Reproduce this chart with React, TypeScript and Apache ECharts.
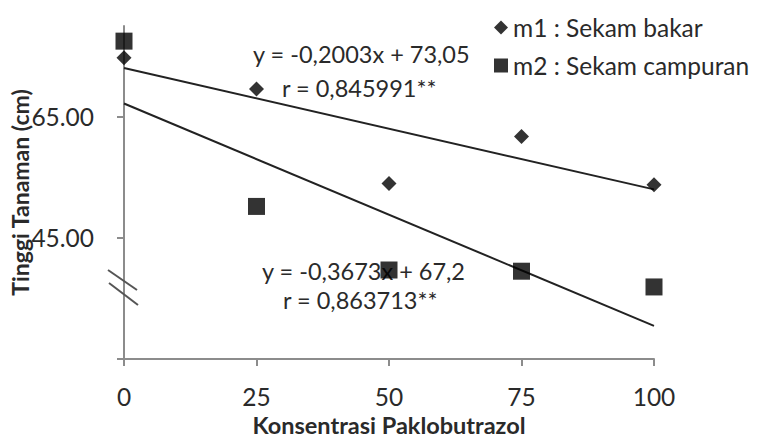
import React, { useEffect, useRef } from "react";
import * as echarts from "echarts";

const xTicks = [0, 25, 50, 75, 100];
const m1Values = [74.75, 69.6, 54.0, 61.75, 53.8];
const m2Values = [77.5, 50.2, 39.7, 39.5, 36.9];
const trend1 = [[0, 73.05], [100, 53.02]];
const trend2 = [[0, 67.2], [100, 30.47]];
const yTickValues = [25, 45, 65];
const yLabelValues = [45, 65];
const m1Name = "m1 : Sekam bakar";
const m2Name = "m2 : Sekam campuran";
const eq1 = "y = -0,2003x + 73,05";
const r1 = "r = 0,845991**";
const eq2 = "y = -0,3673x + 67,2";
const r2 = "r = 0,863713**";

const FONT = "Lato, 'Noto Sans', sans-serif";
const TXT = "#2a2a2a";

export default function App() {
  const ref = useRef<HTMLDivElement>(null);
  useEffect(() => {
    if (!ref.current) return;
    const chart = echarts.init(ref.current, undefined, { renderer: "svg" });
    const pts = (vals: number[]) => xTicks.map((x, i) => [x, vals[i]]);
    const eqStyle = (text: string, x: number, y: number) => ({
      type: "text",
      z: 1,
      style: { text, x, y, verticalAlign: "middle", font: `23.5px ${FONT}`, fill: TXT },
    });
    chart.setOption({
      animation: false,
      backgroundColor: "#ffffff",
      textStyle: { fontFamily: FONT },
      grid: {
        left: 124,
        right: 104,
        top: 26,
        bottom: 78,
        containLabel: false,
        outerBoundsMode: "none",
      },
      legend: {
        orient: "vertical",
        left: 489,
        top: 10,
        itemGap: 13,
        itemWidth: 14,
        itemHeight: 14,
        data: [
          { name: m1Name, icon: "diamond", itemStyle: { color: "#000" } },
          { name: m2Name, icon: "rect", itemStyle: { color: "#000" } },
        ],
        textStyle: { fontFamily: FONT, fontSize: 24.5, color: TXT },
      },
      xAxis: {
        type: "value",
        min: 0,
        max: 100,
        interval: 25,
        splitLine: { show: false },
        axisLine: { show: true, lineStyle: { color: "#8c8c8c", width: 2 } },
        axisTick: { show: true, length: 7, lineStyle: { color: "#8c8c8c", width: 2 } },
        axisLabel: { fontSize: 24.5, color: TXT, margin: 25, fontFamily: FONT },
        name: "Konsentrasi Paklobutrazol",
        nameLocation: "middle",
        nameGap: 54,
        nameMoveOverlap: false,
        nameTextStyle: { fontSize: 23.5, fontWeight: "bold", color: TXT, fontFamily: FONT },
      },
      yAxis: {
        type: "value",
        min: 25,
        max: 80,
        splitLine: { show: false },
        axisLine: { show: true, lineStyle: { color: "#8c8c8c", width: 2 } },
        axisTick: {
          show: true,
          length: 7,
          customValues: yTickValues,
          lineStyle: { color: "#8c8c8c", width: 2 },
        },
        axisLabel: {
          fontSize: 24.5,
          color: TXT,
          margin: 30,
          fontFamily: FONT,
          customValues: yLabelValues,
          formatter: (v: number) => v.toFixed(2),
        },
        name: "Tinggi Tanaman (cm)",
        nameLocation: "middle",
        nameGap: 93,
        nameMoveOverlap: false,
        nameTextStyle: { fontSize: 23, fontWeight: "bold", color: TXT, fontFamily: FONT },
      },
      graphic: [
        eqStyle(eq1, 253, 54),
        eqStyle(r1, 282, 88),
        eqStyle(eq2, 262, 271),
        eqStyle(r2, 283, 300),
        { type: "line", shape: { x1: 108, y1: 270, x2: 137, y2: 290 }, style: { stroke: "#555", lineWidth: 2 }, z: 11 },
        { type: "line", shape: { x1: 109, y1: 283, x2: 138, y2: 305 }, style: { stroke: "#555", lineWidth: 2 }, z: 11 },
      ],
      series: [
        {
          name: "trend1",
          type: "line",
          data: trend1,
          symbol: "none",
          lineStyle: { color: "#222", width: 2 },
          z: 2,
        },
        {
          name: "trend2",
          type: "line",
          data: trend2,
          symbol: "none",
          lineStyle: { color: "#222", width: 2 },
          z: 2,
        },
        {
          name: m1Name,
          type: "scatter",
          data: pts(m1Values),
          symbol: "diamond",
          symbolSize: 15,
          itemStyle: { color: "#000" },
          z: 5,
        },
        {
          name: m2Name,
          type: "scatter",
          data: pts(m2Values),
          symbol: "rect",
          symbolSize: 17,
          itemStyle: { color: "#000" },
          z: 5,
        },
      ],
    });
    return () => chart.dispose();
  }, []);
  return (
    <div
      ref={ref}
      style={{ position: "fixed", left: 0, top: 0, width: 758, height: 437 }}
    />
  );
}
